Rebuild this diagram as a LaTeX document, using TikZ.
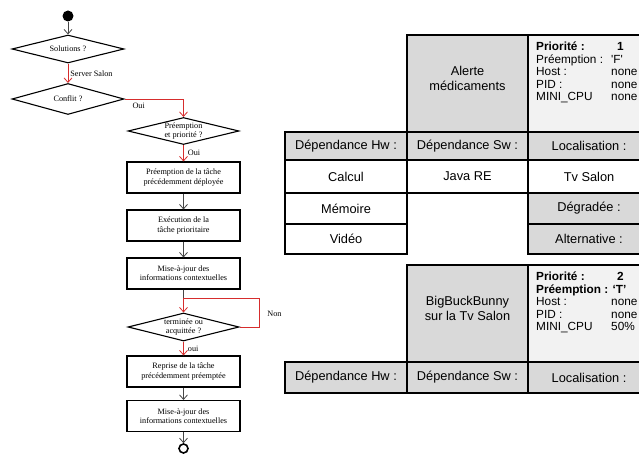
\documentclass[tikz,border=0pt]{standalone}
\usepackage{fontspec}
\setmainfont{Liberation Serif}
\newfontfamily\tabfont{Liberation Sans}
\usetikzlibrary{shapes.geometric,arrows.meta}
\definecolor{fred}{RGB}{214,45,45}
\definecolor{fgray}{RGB}{70,70,70}
\definecolor{cgray}{RGB}{217,217,217}
\definecolor{clight}{RGB}{242,242,242}
\begin{document}
\begin{tikzpicture}[x=1pt,y=-1pt,
  flow/.style={font=\fontsize{8.2}{9.2}\selectfont},
  box/.style={flow, draw, line width=1.1pt, minimum width=113pt, minimum height=31pt, align=center, inner sep=1pt},
  dia/.style={diamond, draw, line width=1.1pt, minimum width=112pt, minimum height=28pt, inner sep=0pt},
  dtxt/.style={flow, align=center, inner sep=0pt},
  tip/.style={-{Straight Barb[length=4.5pt,width=8pt,line width=0.8pt]}},
  blk/.style={tip, draw=fgray, line width=0.8pt},
  redc/.style={tip, draw=fred, line width=0.8pt},
  redl/.style={draw=fred, line width=0.8pt},
  lbl/.style={flow, inner sep=2pt},
  cell/.style={draw, line width=1.5pt, font=\tabfont\fontsize{12.8}{15}\selectfont, align=center, inner sep=0pt},
  gcell/.style={cell, fill=cgray},
  wcell/.style={cell, fill=white},
  icell/.style={cell, fill=clight},
  ctxt/.style={font=\tabfont\fontsize{12.8}{15}\selectfont, align=center, inner sep=0pt, yshift=5pt},
  info/.style={font=\tabfont\fontsize{11.8}{12.4}\selectfont, align=left, inner sep=0pt, anchor=north west}
]
\useasboundingbox (0,0) rectangle (639,454);
\clip (0,0) rectangle (639,454);

% ---------- flowchart ----------
\node[circle, fill=black, minimum size=11pt, inner sep=0pt] (s) at (68,16) {};
\node[dia, label={[dtxt]center:{Solutions ?}}] (d1) at (68,49) {};
\node[dia, minimum height=31pt, label={[dtxt]center:{Conflit ?}}] (d2) at (68,99) {};
\node[dia, minimum height=27pt, minimum width=111pt, label={[dtxt]center:{Préemption\\et priorité ?}}] (d3) at (183.5,131) {};
\node[box] (b1) at (183.5,177.5) {Préemption de la tâche\\précédemment déployée};
\node[box] (b2) at (183.5,225.5) {Exécution de la\\tâche prioritaire};
\node[box] (b3) at (183.5,273.5) {Mise-à-jour des\\informations contextuelles};
\coordinate (j) at (183.5,298);
\node[dia, minimum height=28pt, minimum width=111pt, label={[dtxt]center:{terminée ou\\acquittée ?}}] (d4) at (183.5,327) {};
\coordinate (k1) at (259,327);
\coordinate (k2) at (259,298);
\node[box] (b4) at (183.5,371.5) {Reprise de la tâche\\précédemment préemptée};
\node[box] (b5) at (183.5,416) {Mise-à-jour des\\informations contextuelles};
\node[circle, draw, line width=1.6pt, minimum size=9pt, inner sep=0pt] (e) at (183.5,448.5) {};

\draw[blk] (s) -- (d1.north);
\draw[redc] (d1.south) -- node[lbl, right]{Server Salon} (d2.north);
\draw[redc] (d2.east) -| node[lbl, pos=0.12, below, yshift=-2pt]{Oui} (d3.north);
\draw[redc] (d3.south) -- node[lbl, right, xshift=2pt]{Oui} (b1.north);
\draw[blk] (b1) -- (b2);
\draw[blk] (b2) -- (b3);
\draw[fgray, line width=0.8pt] (b3.south) -- (j);
\draw[redc] (j) -- (d4.north);
\draw[redl] (d4.east) -- (k1) -- node[lbl, right, xshift=6pt, yshift=-1pt]{Non} (k2) -- (j);
\draw[redc] (d4.south) -- node[lbl, right, xshift=2pt]{oui} (b4.north);
\draw[blk] (b4) -- (b5);
\draw[blk] (b5) -- (e);

% ---------- table 1 ----------
\node[gcell, minimum width=121pt, minimum height=97pt, label={[ctxt]center:{Alerte\\médicaments}}] (a1) at (467.5,83.5) {};
\node[icell, minimum width=122pt, minimum height=97pt] (a2) at (589,83.5) {};
\node[info] (a3) at (536,42) {\textbf{\makebox[75pt][l]{Priorité :}\hspace{6pt}1}\\
\makebox[75pt][l]{Préemption :}\textquotesingle F\textquotesingle\\
\makebox[75pt][l]{Host :}none\\
\makebox[75pt][l]{PID :}none\\
\makebox[75pt][l]{MINI\_CPU}none};
\node[gcell, minimum width=122pt, minimum height=28pt] (h1) at (346,146) {Dépendance Hw :};
\node[gcell, minimum width=121pt, minimum height=28pt] (s1) at (467.5,146) {Dépendance Sw :};
\node[gcell, minimum width=122pt, minimum height=28pt] (l1) at (589,146) {Localisation :};
\node[wcell, minimum width=122pt, minimum height=33pt] (c1) at (346,176.5) {Calcul};
\node[wcell, minimum width=121pt, minimum height=33pt] (jr) at (467.5,176.5) {Java RE};
\node[wcell, minimum width=122pt, minimum height=33pt] (tv) at (589,176.5) {Tv Salon};
\node[wcell, minimum width=122pt, minimum height=31pt] (m1) at (346,208.5) {Mémoire};
\node[gcell, minimum width=122pt, minimum height=31pt] (g1) at (589,208.5) {Dégradée :};
\node[wcell, minimum width=122pt, minimum height=30pt] (v1) at (346,239) {Vidéo};
\node[gcell, minimum width=122pt, minimum height=30pt] (al) at (589,239) {Alternative :};

% ---------- table 2 ----------
\node[gcell, minimum width=121pt, minimum height=97pt, label={[ctxt]center:{BigBuckBunny\\sur la Tv Salon}}] (bb) at (467.5,313.5) {};
\node[icell, minimum width=122pt, minimum height=97pt] (bi) at (589,313.5) {};
\node[info] (bt) at (536,272) {\textbf{\makebox[75pt][l]{Priorité :}\hspace{6pt}2}\\
\textbf{Préemption : ‘T’}\\
\makebox[75pt][l]{Host :}none\\
\makebox[75pt][l]{PID :}none\\
\makebox[75pt][l]{MINI\_CPU}50\%};
\node[gcell, minimum width=122pt, minimum height=31pt] (h2) at (346,377.5) {Dépendance Hw :};
\node[gcell, minimum width=121pt, minimum height=31pt] (s2) at (467.5,377.5) {Dépendance Sw :};
\node[gcell, minimum width=122pt, minimum height=31pt] (l2) at (589,377.5) {Localisation :};
\end{tikzpicture}
\end{document}
